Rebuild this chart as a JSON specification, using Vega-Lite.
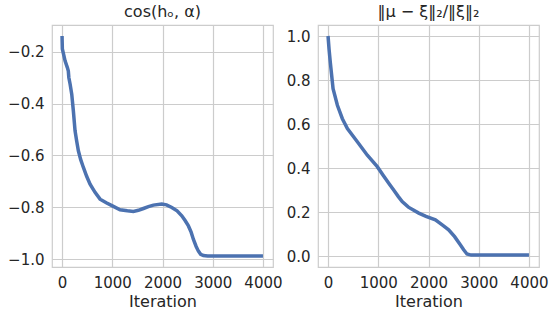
{
  "$schema": "https://vega.github.io/schema/vega-lite/v6.json",
  "background": "white",
  "padding": {"left": 6, "top": 3, "right": 5, "bottom": 3},
  "spacing": 2,
  "datasets": {
    "cosv": [
      {"iter": 0, "v": -0.14}, {"iter": 6, "v": -0.19}, {"iter": 30, "v": -0.21}, {"iter": 60, "v": -0.236},
      {"iter": 106, "v": -0.262}, {"iter": 125, "v": -0.275}, {"iter": 135, "v": -0.3}, {"iter": 160, "v": -0.325},
      {"iter": 193, "v": -0.364}, {"iter": 225, "v": -0.428}, {"iter": 259, "v": -0.505}, {"iter": 292, "v": -0.545},
      {"iter": 325, "v": -0.582}, {"iter": 370, "v": -0.615}, {"iter": 425, "v": -0.646}, {"iter": 490, "v": -0.68},
      {"iter": 558, "v": -0.71}, {"iter": 657, "v": -0.742}, {"iter": 757, "v": -0.768}, {"iter": 880, "v": -0.782},
      {"iter": 1002, "v": -0.794}, {"iter": 1155, "v": -0.809}, {"iter": 1300, "v": -0.813}, {"iter": 1420, "v": -0.815},
      {"iter": 1520, "v": -0.811}, {"iter": 1620, "v": -0.804}, {"iter": 1720, "v": -0.797}, {"iter": 1819, "v": -0.791},
      {"iter": 1985, "v": -0.787}, {"iter": 2080, "v": -0.79}, {"iter": 2185, "v": -0.8}, {"iter": 2290, "v": -0.813},
      {"iter": 2384, "v": -0.832}, {"iter": 2450, "v": -0.85}, {"iter": 2516, "v": -0.871}, {"iter": 2570, "v": -0.895},
      {"iter": 2616, "v": -0.923}, {"iter": 2670, "v": -0.95}, {"iter": 2715, "v": -0.968}, {"iter": 2760, "v": -0.98},
      {"iter": 2815, "v": -0.985}, {"iter": 2900, "v": -0.987}, {"iter": 4000, "v": -0.987}
    ],
    "errv": [
      {"iter": 0, "v": 1.0}, {"iter": 20, "v": 0.94}, {"iter": 45, "v": 0.88}, {"iter": 100, "v": 0.76},
      {"iter": 186, "v": 0.685}, {"iter": 285, "v": 0.624}, {"iter": 385, "v": 0.579}, {"iter": 583, "v": 0.519},
      {"iter": 782, "v": 0.458}, {"iter": 980, "v": 0.406}, {"iter": 1100, "v": 0.366}, {"iter": 1212, "v": 0.33},
      {"iter": 1310, "v": 0.299}, {"iter": 1400, "v": 0.27}, {"iter": 1476, "v": 0.247}, {"iter": 1600, "v": 0.222},
      {"iter": 1806, "v": 0.195}, {"iter": 1950, "v": 0.18}, {"iter": 2137, "v": 0.164}, {"iter": 2280, "v": 0.14},
      {"iter": 2401, "v": 0.119}, {"iter": 2520, "v": 0.088}, {"iter": 2633, "v": 0.051}, {"iter": 2700, "v": 0.028},
      {"iter": 2766, "v": 0.009}, {"iter": 2850, "v": 0.004}, {"iter": 4000, "v": 0.004}
    ]
  },
  "hconcat": [
    {
      "width": 221,
      "height": 242,
      "title": "cos(hₒ, α)",
      "data": {"name": "cosv"},
      "mark": {"type": "line", "color": "#4c72b0", "strokeWidth": 3.5, "clip": true},
      "encoding": {
        "x": {"field": "iter", "type": "quantitative", "title": "Iteration",
              "scale": {"domain": [-200, 4200], "nice": false, "zero": false},
              "axis": {"values": [0, 1000, 2000, 3000, 4000], "format": "d"}},
        "y": {"field": "v", "type": "quantitative", "title": null,
              "scale": {"domain": [-1.029, -0.098], "nice": false, "zero": false},
              "axis": {"values": [-1.0, -0.8, -0.6, -0.4, -0.2], "format": ".1f"}}
      }
    },
    {
      "width": 221,
      "height": 242,
      "title": "‖μ − ξ‖₂/‖ξ‖₂",
      "data": {"name": "errv"},
      "mark": {"type": "line", "color": "#4c72b0", "strokeWidth": 3.5, "clip": true},
      "encoding": {
        "x": {"field": "iter", "type": "quantitative", "title": "Iteration",
              "scale": {"domain": [-200, 4200], "nice": false, "zero": false},
              "axis": {"values": [0, 1000, 2000, 3000, 4000], "format": "d"}},
        "y": {"field": "v", "type": "quantitative", "title": null,
              "scale": {"domain": [-0.05, 1.05], "nice": false, "zero": false},
              "axis": {"values": [0, 0.2, 0.4, 0.6, 0.8, 1.0], "format": ".1f"}}
      }
    }
  ],
  "config": {
    "font": "DejaVu Sans",
    "view": {"stroke": "#cccccc", "strokeWidth": 1.2},
    "axis": {
      "grid": true,
      "gridColor": "#cccccc",
      "gridWidth": 1.2,
      "domain": false,
      "ticks": false,
      "tickSize": 0,
      "labelPadding": 8,
      "labelFont": "DejaVu Sans",
      "labelFontSize": 15,
      "labelColor": "#262626",
      "titleFont": "DejaVu Sans",
      "titleFontSize": 16,
      "titleFontWeight": "normal",
      "titleColor": "#262626",
      "titlePadding": 3
    },
    "title": {
      "font": "DejaVu Sans",
      "fontSize": 16,
      "fontWeight": "normal",
      "color": "#262626",
      "offset": 5
    }
  }
}
